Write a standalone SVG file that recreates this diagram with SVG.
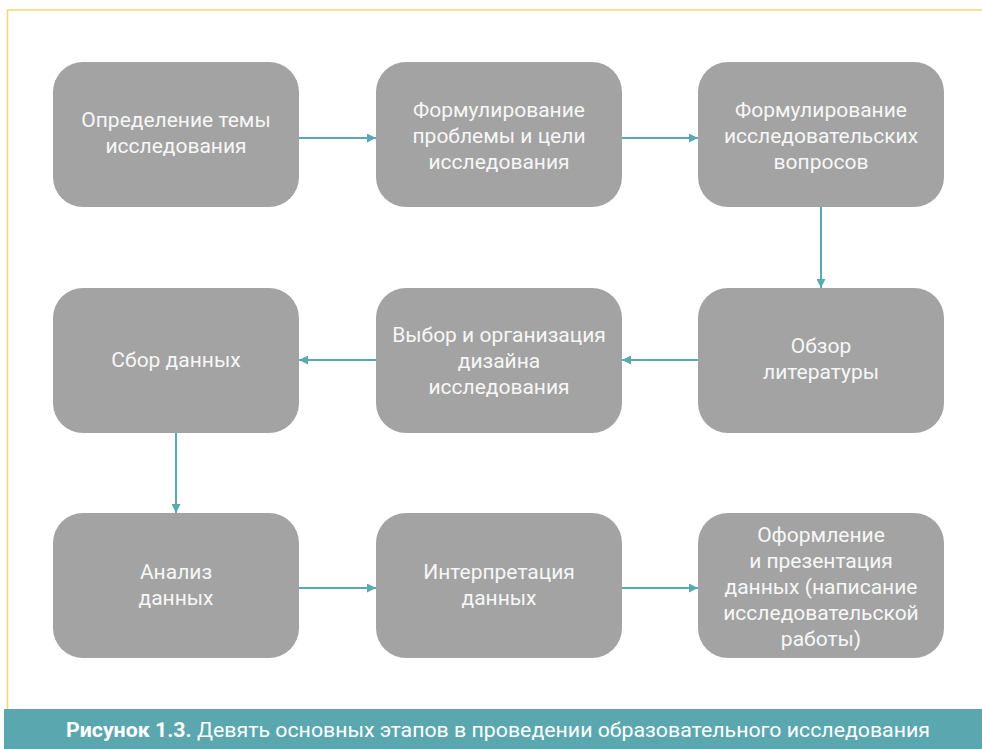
<svg xmlns="http://www.w3.org/2000/svg" width="982" height="749" viewBox="0 0 982 749">
<style>
.box{fill:#a3a3a3}
.t{font-family:Roboto,"Liberation Sans",sans-serif;font-size:21px;fill:#f7f7f7;text-anchor:middle}
.c{stroke:#5aa8b2;stroke-width:2;fill:none;marker-end:url(#ah)}
.cap{font-family:Roboto,"Liberation Sans",sans-serif;font-size:20px;fill:#ffffff}
</style>
<defs>
<marker id="ah" viewBox="0 0 10 10" refX="10" refY="5" markerWidth="4.5" markerHeight="4.5" orient="auto" markerUnits="strokeWidth">
<path d="M0,0 L10,5 L0,10 z" fill="#5aa8b2"/>
</marker>
</defs>
<rect width="982" height="749" fill="#ffffff"/>
<path d="M982,10 H7.5 V709" fill="none" stroke="#fad66e" stroke-width="1.5"/>
<rect x="4" y="709" width="978" height="40" fill="#5ba7b0"/>
<text class="cap" x="498" y="737" text-anchor="middle" textLength="864" lengthAdjust="spacingAndGlyphs"><tspan font-weight="bold">Рисунок 1.3.</tspan> Девять основных этапов в проведении образовательного исследования</text>
<g id="connectors">
<line class="c" x1="299" y1="138" x2="376" y2="138"/>
<line class="c" x1="622" y1="138" x2="698" y2="138"/>
<line class="c" x1="821" y1="207" x2="821" y2="288"/>
<line class="c" x1="698" y1="360" x2="622" y2="360"/>
<line class="c" x1="376" y1="360" x2="299" y2="360"/>
<line class="c" x1="176" y1="433" x2="176" y2="513"/>
<line class="c" x1="299" y1="588" x2="376" y2="588"/>
<line class="c" x1="622" y1="588" x2="698" y2="588"/>
</g>
<g id="n1"><rect class="box" x="53" y="62" width="246" height="145" rx="30"/>
<text class="t" x="176" y="127">Определение темы</text><text class="t" x="176" y="153">исследования</text></g>
<g id="n2"><rect class="box" x="376" y="62" width="246" height="145" rx="30"/>
<text class="t" x="499" y="117">Формулирование</text><text class="t" x="499" y="143">проблемы и цели</text><text class="t" x="499" y="169">исследования</text></g>
<g id="n3"><rect class="box" x="698" y="62" width="246" height="145" rx="30"/>
<text class="t" x="821" y="117">Формулирование</text><text class="t" x="821" y="143">исследовательских</text><text class="t" x="821" y="169">вопросов</text></g>
<g id="n4"><rect class="box" x="698" y="288" width="246" height="145" rx="30"/>
<text class="t" x="821" y="353">Обзор</text><text class="t" x="821" y="379">литературы</text></g>
<g id="n5"><rect class="box" x="376" y="288" width="246" height="145" rx="30"/>
<text class="t" x="499" y="342">Выбор и организация</text><text class="t" x="499" y="368">дизайна</text><text class="t" x="499" y="394">исследования</text></g>
<g id="n6"><rect class="box" x="53" y="288" width="246" height="145" rx="30"/>
<text class="t" x="176" y="367">Сбор данных</text></g>
<g id="n7"><rect class="box" x="53" y="513" width="246" height="145" rx="30"/>
<text class="t" x="176" y="579">Анализ</text><text class="t" x="176" y="605">данных</text></g>
<g id="n8"><rect class="box" x="376" y="513" width="246" height="145" rx="30"/>
<text class="t" x="499" y="579">Интерпретация</text><text class="t" x="499" y="605">данных</text></g>
<g id="n9"><rect class="box" x="698" y="513" width="246" height="145" rx="30"/>
<text class="t" x="821" y="542">Оформление</text><text class="t" x="821" y="568">и презентация</text><text class="t" x="821" y="594">данных (написание</text><text class="t" x="821" y="620">исследовательской</text><text class="t" x="821" y="646">работы)</text></g>
</svg>
